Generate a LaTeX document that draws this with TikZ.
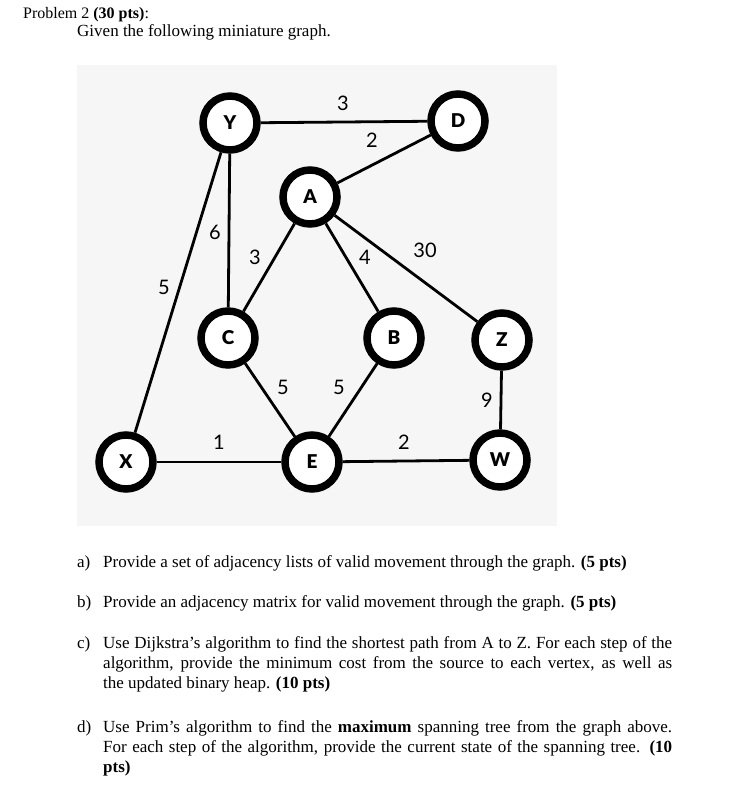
\documentclass[tikz,border=0pt]{standalone}
\usepackage{fontspec}
\setmainfont{Liberation Serif}
\newfontfamily\lato{Lato}
\IfFontExistsTF{Lato Black}{\newfontfamily\latoheavy{Lato Black}}{\newcommand\latoheavy{\lato\bfseries}}
\usetikzlibrary{backgrounds}
\definecolor{bggray}{HTML}{F6F6F6}
\tikzset{
  vtx/.style={circle, draw=black, fill=white, line width=7.5pt, minimum size=54pt, inner sep=0pt, font=\latoheavy\fontsize{19}{19}\selectfont},
  edge/.style={line width=2.8pt, black},
  wt/.style={inner sep=0pt, font=\lato\fontsize{20}{20}\selectfont},
  txt/.style={anchor=base west, inner sep=0pt, font=\fontsize{17}{20.5}\selectfont},
}
\begin{document}
\begin{tikzpicture}[x=1pt,y=-1pt]
\useasboundingbox (0,0) rectangle (732,791);
% nodes
\node[vtx] (Y) at (230,123) {Y};
\node[vtx] (D) at (458,121) {D};
\node[vtx] (A) at (310,197) {A};
\node[vtx] (C) at (228,338) {C};
\node[vtx] (B) at (394,338) {B};
\node[vtx] (Z) at (502,340) {Z};
\node[vtx] (X) at (126,462) {X};
\node[vtx] (E) at (312,462) {E};
\node[vtx] (W) at (500,460) {W};
\begin{pgfonlayer}{background}
\fill[bggray] (77,65) rectangle (557,526);
\draw[edge] (Y) -- (D);
\draw[edge] (D) -- (A);
\draw[edge] (Y) -- (X);
\draw[edge] (Y) -- (C);
\draw[edge] (A) -- (C);
\draw[edge] (A) -- (B);
\draw[edge] (A) -- (Z);
\draw[edge] (C) -- (E);
\draw[edge] (B) -- (E);
\draw[edge] (Z) -- (W);
\draw[edge] (X) -- (E);
\draw[edge] (E) -- (W);
\end{pgfonlayer}
% weights
\node[wt] (wYD) at (343,103) {3};
\node[wt] (wDA) at (372,140) {2};
\node[wt] (wYX) at (164,287) {5};
\node[wt] (wYC) at (215,232) {6};
\node[wt] (wAC) at (255,257) {3};
\node[wt] (wAB) at (365,257) {4};
\node[wt] (wAZ) at (425,250) {30};
\node[wt] (wCE) at (283,387) {5};
\node[wt] (wBE) at (339,387) {5};
\node[wt] (wZW) at (487,400) {9};
\node[wt] (wXE) at (219,442) {1};
\node[wt] (wEW) at (404,442) {2};
% text
\node[txt, font=\fontsize{16}{20}\selectfont] (title) at (23,19) {Problem 2 \textbf{(30 pts)}:};
\node[txt] (given) at (77,37) {Given the following miniature graph.};
\node[txt] (la) at (77,567) {a)};
\node[txt] (ta) at (103,567) {Provide a set of adjacency lists of valid movement through the graph. \textbf{(5 pts)}};
\node[txt] (lb) at (77,607) {b)};
\node[txt] (tb) at (103,607) {Provide an adjacency matrix for valid movement through the graph. \textbf{(5 pts)}};
\node[txt] (lc) at (77,648) {c)};
\node[txt] (tc1) at (103,648) {\makebox[569pt][s]{Use Dijkstra’s algorithm to find the shortest path from A to Z. For each step of the}};
\node[txt] (tc2) at (103,668) {\makebox[569pt][s]{algorithm, provide the minimum cost from the source to each vertex, as well as}};
\node[txt] (tc3) at (103,688) {the updated binary heap. \textbf{(10 pts)}};
\node[txt] (ld) at (77,732) {d)};
\node[txt] (td1) at (103,732) {\makebox[569pt][s]{Use Prim’s algorithm to find the \textbf{maximum} spanning tree from the graph above.}};
\node[txt] (td2) at (103,752) {\makebox[569pt][s]{For each step of the algorithm, provide the current state of the spanning tree. \textbf{(10}}};
\node[txt] (td3) at (103,772) {\textbf{pts)}};
\end{tikzpicture}
\end{document}
